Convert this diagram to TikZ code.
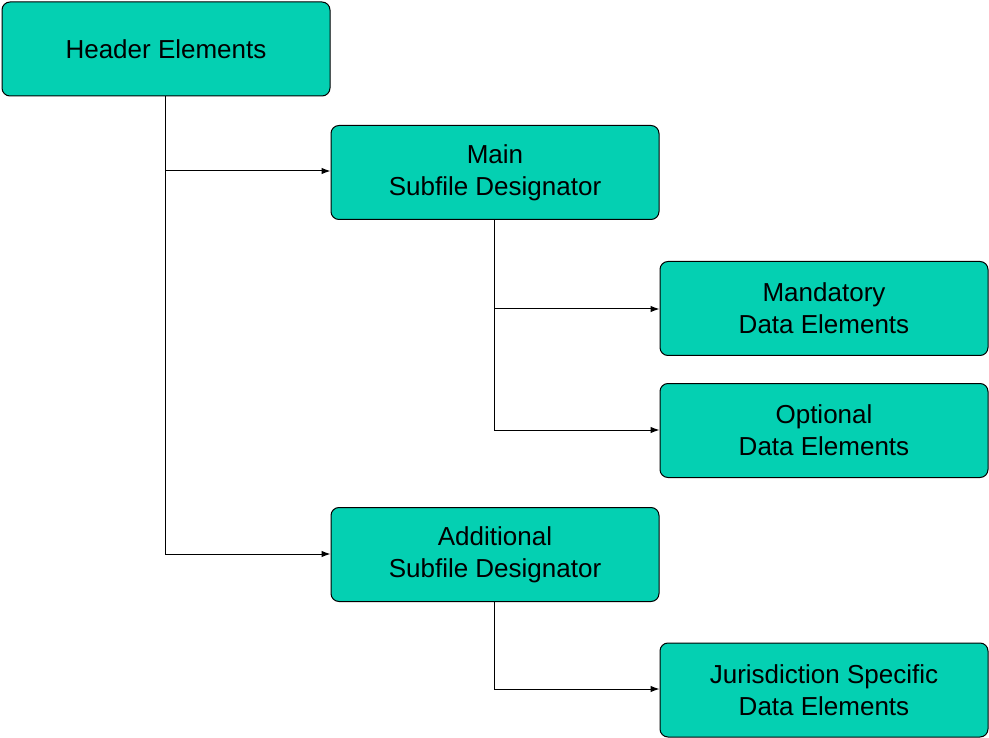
\documentclass[tikz,border=0pt]{standalone}
\usepackage{fontspec}
\setmainfont{Liberation Sans}
\usetikzlibrary{arrows.meta}
\definecolor{boxfill}{RGB}{4,208,178}
\begin{document}
\begin{tikzpicture}[x=1pt,y=-1pt,
  box/.style={draw=black, line width=1pt, fill=boxfill, rounded corners=8pt,
    minimum width=328pt, minimum height=94pt, inner sep=0pt, align=center,
    font=\fontsize{26}{32}\selectfont},
  conn/.style={draw=black, line width=1pt},
  arr/.style={conn, -{Latex[length=9pt,width=6.5pt]}}]
\useasboundingbox (0,0) rectangle (989,738);
\node[box] (hdr) at (166,49) {Header Elements};
\node[box] (main) at (495,172.5) {Main\\Subfile Designator};
\node[box] (mand) at (824,308.5) {Mandatory\\Data Elements};
\node[box] (opt) at (824,430.5) {Optional\\Data Elements};
\node[box] (add) at (495,554.5) {Additional\\Subfile Designator};
\node[box] (jur) at (824,690) {Jurisdiction Specific\\Data Elements};
% header trunk
\coordinate (h1) at (165,171);
\coordinate (h2) at (165,554);
\draw[conn] (hdr.south -| h1) -- (h2);
\draw[arr] (h1) -- (main.west |- h1);
\draw[arr] (h2) -- (add.west |- h2);
% main trunk
\coordinate (m1) at (494,309);
\coordinate (m2) at (494,430);
\draw[conn] (main.south -| m1) -- (m2);
\draw[arr] (m1) -- (mand.west |- m1);
\draw[arr] (m2) -- (opt.west |- m2);
% additional trunk
\coordinate (a1) at (494,689);
\draw[conn] (add.south -| a1) -- (a1);
\draw[arr] (a1) -- (jur.west |- a1);
\end{tikzpicture}
\end{document}
